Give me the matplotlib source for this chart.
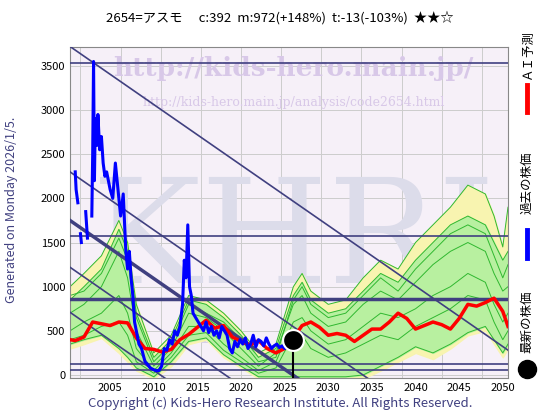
import matplotlib
matplotlib.use("Agg")
import matplotlib.pyplot as plt
from matplotlib.lines import Line2D
import numpy as np

plt.rcParams['font.family'] = ['Noto Sans CJK JP', 'DejaVu Sans']

title = "2654=アスモ　 c:392  m:972(+148%)  t:-13(-103%)  ★★☆"
xticks = [2005, 2010, 2015, 2020, 2025, 2030, 2035, 2040, 2045, 2050]
yticks = [0, 500, 1000, 1500, 2000, 2500, 3000, 3500]

past_x = [2001.0, 2001.1, 2001.3, None, 2001.6, 2001.7, None, 2002.2, 2002.4, None, 2002.9, 2003.0, 2003.1, 2003.2, 2003.3, 2003.5, 2003.6, 2003.8, 2004.0, 2004.2, 2004.4, 2004.6, 2004.8, 2005.0, 2005.3, 2005.6, 2005.9, 2006.2, 2006.5, 2006.8, 2007.0, 2007.2, 2007.4, 2007.6, 2007.8, 2008.0, 2008.3, 2008.6, 2009.0, 2009.3, 2009.6, 2010.0, 2010.3, 2010.6, 2010.9, 2011.2, 2011.5, 2011.8, 2012.1, 2012.4, 2012.7, 2013.0, 2013.3, 2013.5, 2013.7, 2013.9, 2014.1, 2014.3, 2014.5, 2014.8, 2015.1, 2015.4, 2015.7, 2016.0, 2016.3, 2016.6, 2016.9, 2017.2, 2017.5, 2017.8, 2018.1, 2018.4, 2018.7, 2019.0, 2019.3, 2019.6, 2019.9, 2020.2, 2020.5, 2020.8, 2021.1, 2021.4, 2021.7, 2022.0, 2022.3, 2022.6, 2022.9, 2023.2, 2023.5, 2023.8, 2024.1, 2024.4, 2024.7, 2025.0, 2025.3, 2025.6, 2026.0]
past_y = [2300, 2100, 1950, None, 1600, 1500, None, 1850, 1550, None, 1800, 2500, 3550, 2200, 2900, 2600, 2950, 2550, 2700, 2400, 2250, 2300, 2200, 2100, 2000, 2400, 2100, 1800, 2050, 1400, 1200, 1400, 1100, 900, 600, 500, 350, 300, 150, 120, 80, 60, 50, 50, 100, 300, 280, 400, 350, 500, 450, 550, 800, 1300, 1100, 1700, 1000, 900, 700, 650, 600, 550, 500, 600, 480, 550, 450, 500, 420, 550, 500, 450, 300, 250, 380, 320, 400, 350, 420, 300, 350, 450, 320, 400, 380, 330, 420, 350, 300, 330, 350, 310, 330, 300, 320, 360, 392]

ai_x = [2000.4, 2001, 2002, 2003, 2004, 2005, 2006, 2007, 2008, 2009, 2010, 2011, 2012, 2013, 2014, 2015, 2016, 2017, 2018, 2019, 2020, 2021, 2022, 2023, 2024, 2025, 2026, 2027, 2028, 2029, 2030, 2031, 2032, 2033, 2034, 2035, 2036, 2037, 2038, 2039, 2040, 2041, 2042, 2043, 2044, 2045, 2046, 2047, 2048, 2049, 2050, 2050.6]
ai_y = [400, 390, 430, 600, 580, 560, 600, 590, 420, 300, 290, 260, 290, 400, 460, 540, 620, 530, 560, 430, 380, 340, 390, 300, 250, 300, 420, 560, 600, 540, 450, 470, 450, 380, 450, 520, 520, 600, 700, 640, 520, 560, 600, 570, 520, 640, 800, 780, 820, 870, 720, 550]

band_x = [2000.4, 2002, 2004, 2006, 2007, 2008, 2010, 2012, 2014, 2016, 2018, 2020, 2022, 2024, 2026, 2027, 2028, 2030, 2032, 2034, 2036, 2038, 2040, 2042, 2044, 2046, 2048, 2049, 2050, 2050.6]
yellow_hi = [1000, 1150, 1350, 1750, 1500, 800, 250, 450, 900, 850, 700, 500, 250, 350, 1000, 1150, 950, 800, 850, 1100, 1300, 1200, 1500, 1700, 1900, 2150, 2050, 1800, 1450, 1900]
yellow_lo = [300, 350, 420, 250, 150, 50, -40, 100, 350, 400, 200, 80, -40, -40, -40, -40, -40, -40, -40, -40, 50, 150, 250, 180, 300, 450, 500, 350, 200, 300]
green_hi = [850, 1000, 1200, 1650, 1400, 700, 200, 400, 850, 800, 650, 450, 200, 300, 900, 1050, 850, 700, 750, 950, 1150, 1050, 1300, 1500, 1700, 1800, 1700, 1500, 1300, 1400]
green_lo = [350, 400, 450, 300, 200, 80, -20, 150, 380, 420, 230, 100, -20, -20, -20, -20, -20, -20, -20, 0, 100, 200, 320, 250, 350, 480, 550, 400, 250, 350]
g1 = [700, 800, 1000, 1400, 1100, 500, 100, 300, 700, 650, 500, 300, 100, 250, 800, 900, 700, 550, 600, 800, 950, 850, 1050, 1250, 1400, 1500, 1400, 1150, 950, 1000]
g2 = [500, 600, 700, 900, 700, 300, 50, 250, 550, 550, 350, 200, 50, 150, 600, 650, 500, 350, 400, 550, 700, 650, 750, 900, 1000, 1150, 1050, 800, 600, 700]
g3 = [900, 950, 1150, 1550, 1300, 650, 150, 350, 800, 700, 600, 400, 150, 200, 850, 1000, 800, 650, 700, 900, 1100, 950, 1200, 1400, 1600, 1700, 1600, 1350, 1100, 1250]
g4 = [400, 450, 550, 600, 450, 150, 20, 200, 450, 480, 280, 150, 20, 80, 450, 450, 300, 200, 250, 350, 450, 400, 550, 650, 750, 900, 850, 600, 400, 500]

hlines = [3530, 1570, 130, 60]
thick_hline = 860
diag_start = [3720, 2300, 1750, 1220, 710]
diag_slope = -68.5
latest_x, latest_y = 2026.0, 392

fig = plt.figure(figsize=(5.6, 4.2), dpi=100)
ax = fig.add_axes([70/560, 1-378/420, 438/560, 331/420])
ax.set_facecolor('#f6f0f8')
ax.set_xlim(2000.4, 2050.6)
ax.set_ylim(-34, 3714)

for gx in np.arange(2001.6, 2051, 4.6):
    ax.axvline(gx, color='#cccccc', lw=0.7, zorder=0)
for gy in yticks:
    ax.axhline(gy, color='#cccccc', lw=0.7, zorder=0)

ax.text(2026, 1500, "KHRI", fontsize=105, color='#dcdcea', ha='center', va='center', family='DejaVu Serif', zorder=0)
ax.text(2026, 3470, "http://kids-hero.main.jp/", fontsize=19, color='#d8c8e8', ha='center', va='center', family='DejaVu Serif', fontweight='bold', zorder=0)
ax.text(2026, 3080, "http://kids-hero.main.jp/analysis/code2654.html", fontsize=9, color='#d8c8e8', ha='center', va='center', family='DejaVu Serif', zorder=0)
ax.text(2026, 450, "in              .jp", fontsize=20, color='#d8d0ea', ha='center', va='center', family='DejaVu Serif', zorder=0)

ax.fill_between(band_x, yellow_lo, yellow_hi, color='#f8f4b0', zorder=1)
ax.fill_between(band_x, green_lo, green_hi, color='#b8f0a0', zorder=1)
for g in (g1, g2, g3, g4, yellow_hi, green_hi, green_lo):
    ax.plot(band_x, g, color='#30b830', lw=0.7, zorder=2)

for h in hlines:
    ax.axhline(h, color='#404080', lw=1.2, zorder=3)
ax.axhline(thick_hline, color='#404080', lw=2.5, zorder=3)
xs = np.array([2000.4, 2050.6])
for i, s in enumerate(diag_start):
    ax.plot(xs, s + diag_slope * (xs - 2000.4), color='#404080', lw=2.5 if i == 2 else 1.2, zorder=3)

ax.plot(ai_x, ai_y, color='#ff0000', lw=2.5, zorder=4)
px = [np.nan if v is None else v for v in past_x]
py = [np.nan if v is None else v for v in past_y]
ax.plot(px, py, color='#0000ff', lw=2.2, zorder=5)
ax.plot([latest_x, latest_x], [-34, latest_y], color='black', lw=1.5, zorder=6)
ax.plot(latest_x, latest_y, 'o', ms=15, color='black', mec='white', mew=1.5, zorder=7)

ax.set_xticks(xticks)
ax.set_yticks(yticks)
ax.tick_params(labelsize=8, length=0)
for s in ax.spines.values():
    s.set_color('#888888')

fig.text(0.5, 1-18/420, title, ha='center', va='center', fontsize=9.5)
fig.text(12/560, 0.5, "Generated on Monday 2026/1/5.", rotation=90, ha='center', va='center', fontsize=9, color='#404080')
fig.text(0.5, 1-403/420, "Copyright (c) Kids-Hero Research Institute. All Rights Reserved.", ha='center', va='center', fontsize=9.5, color='#404080')

lx = 527/560
fig.text(lx, 1-55/420, "ＡＩ予測", rotation=90, ha='center', va='center', fontsize=9)
fig.add_artist(Line2D([lx, lx], [1-112/420, 1-85/420], color='red', lw=3.5))
fig.text(lx, 1-183/420, "過去の株価", rotation=90, ha='center', va='center', fontsize=9)
fig.add_artist(Line2D([lx, lx], [1-258/420, 1-230/420], color='blue', lw=3.5))
fig.text(lx, 1-322/420, "最新の株価", rotation=90, ha='center', va='center', fontsize=9)
fig.add_artist(Line2D([lx], [1-369/420], marker='o', ms=13, color='black'))

fig.savefig("out.png", dpi=100)
